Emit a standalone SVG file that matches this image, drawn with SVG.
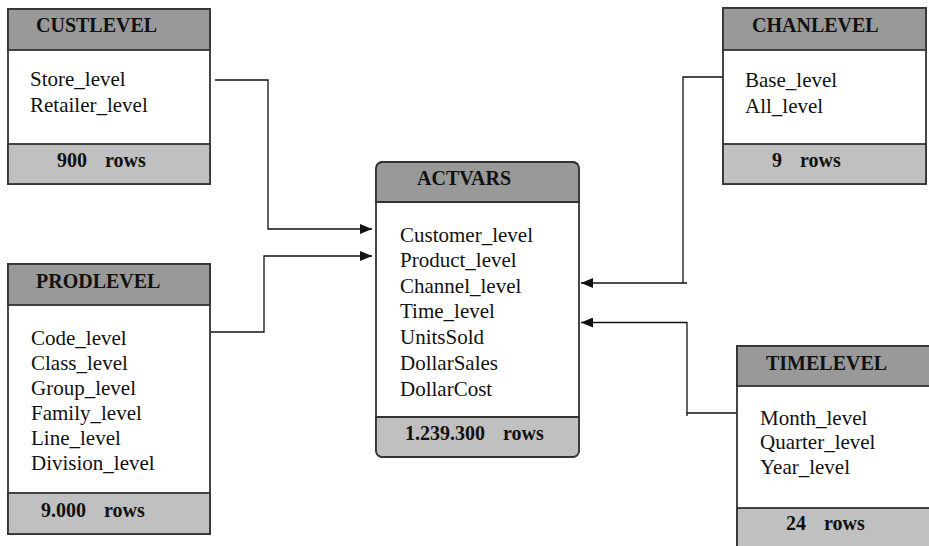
<svg xmlns="http://www.w3.org/2000/svg" width="929" height="546" viewBox="0 0 929 546">
<style>
.bg{fill:#fff}
.box{fill:#fff;stroke:#333;stroke-width:1.8}
.hd{fill:#999;stroke:#333;stroke-width:1.8}
.ft{fill:#c0c0c0;stroke:#333;stroke-width:1.8}
.t{font-family:"Liberation Serif","Times New Roman",serif;font-size:20px;font-weight:bold;fill:#111}
.f{font-family:"Liberation Serif","Times New Roman",serif;font-size:20px;font-weight:bold;fill:#111;word-spacing:4px}
.i{font-family:"Liberation Serif","Times New Roman",serif;font-size:21px;fill:#111}
.c{fill:none;stroke:#111;stroke-width:1.3}
</style>
<defs>
<marker id="ah" viewBox="0 0 12 10" refX="12" refY="5" markerWidth="12" markerHeight="10" markerUnits="userSpaceOnUse" orient="auto">
<path d="M0,0 L12,5 L0,10 Z" fill="#111"/>
</marker>
</defs>
<rect class="bg" x="0" y="0" width="929" height="546"/>
<g id="connectors">
<polyline class="c" points="215,80 268,80 268,229 372,229" marker-end="url(#ah)"/>
<polyline class="c" points="210,332 264,332 264,256 372,256" marker-end="url(#ah)"/>
<polyline class="c" points="723,77 683,77 683,283"/>
<polyline class="c" points="687,283 581,283" marker-end="url(#ah)"/>
<polyline class="c" points="737,413 687,413 687,322.5 581,322.5" marker-end="url(#ah)"/>
<line class="c" x1="687" y1="413" x2="687" y2="416"/>
</g>
<g id="custlevel">
<rect class="box" x="8" y="9" width="202" height="175"/>
<rect class="hd" x="8" y="9" width="202" height="41"/>
<rect class="ft" x="8" y="144" width="202" height="40"/>
<text class="t" x="36" y="32">CUSTLEVEL</text>
<text class="i" x="30" y="86">Store_level</text>
<text class="i" x="30" y="112">Retailer_level</text>
<text class="f" x="57" y="167" xml:space="preserve">900  rows</text>
</g>
<g id="prodlevel">
<rect class="box" x="8" y="264" width="202" height="270"/>
<rect class="hd" x="8" y="264" width="202" height="41"/>
<rect class="ft" x="8" y="493" width="202" height="41"/>
<text class="t" x="36" y="288">PRODLEVEL</text>
<text class="i" x="31" y="345">Code_level</text>
<text class="i" x="31" y="370">Class_level</text>
<text class="i" x="31" y="395">Group_level</text>
<text class="i" x="31" y="420">Family_level</text>
<text class="i" x="31" y="445">Line_level</text>
<text class="i" x="31" y="470">Division_level</text>
<text class="f" x="41" y="517" xml:space="preserve">9.000  rows</text>
</g>
<g id="actvars">
<rect class="box" x="376" y="162" width="203" height="295" rx="7"/>
<path class="hd" d="M376,202 L376,169 Q376,162 383,162 L572,162 Q579,162 579,169 L579,202 Z"/>
<path class="ft" d="M376,417 L579,417 L579,450 Q579,457 572,457 L383,457 Q376,457 376,450 Z"/>
<text class="t" x="417" y="185">ACTVARS</text>
<text class="i" x="400" y="242">Customer_level</text>
<text class="i" x="400" y="267">Product_level</text>
<text class="i" x="400" y="293">Channel_level</text>
<text class="i" x="400" y="318">Time_level</text>
<text class="i" x="400" y="344">UnitsSold</text>
<text class="i" x="400" y="370">DollarSales</text>
<text class="i" x="400" y="396">DollarCost</text>
<text class="f" x="405" y="440" xml:space="preserve">1.239.300  rows</text>
</g>
<g id="chanlevel">
<rect class="box" x="723" y="8" width="203" height="176"/>
<rect class="hd" x="723" y="8" width="203" height="42"/>
<rect class="ft" x="723" y="144" width="203" height="40"/>
<text class="t" x="752" y="32">CHANLEVEL</text>
<text class="i" x="745" y="87">Base_level</text>
<text class="i" x="745" y="113">All_level</text>
<text class="f" x="772" y="167" xml:space="preserve">9  rows</text>
</g>
<g id="timelevel">
<rect class="box" x="737" y="346" width="195" height="205"/>
<rect class="hd" x="737" y="346" width="195" height="40"/>
<rect class="ft" x="737" y="508" width="195" height="43"/>
<text class="t" x="766" y="370">TIMELEVEL</text>
<text class="i" x="760" y="425">Month_level</text>
<text class="i" x="760" y="449">Quarter_level</text>
<text class="i" x="760" y="474">Year_level</text>
<text class="f" x="786" y="530" xml:space="preserve">24  rows</text>
</g>
</svg>
